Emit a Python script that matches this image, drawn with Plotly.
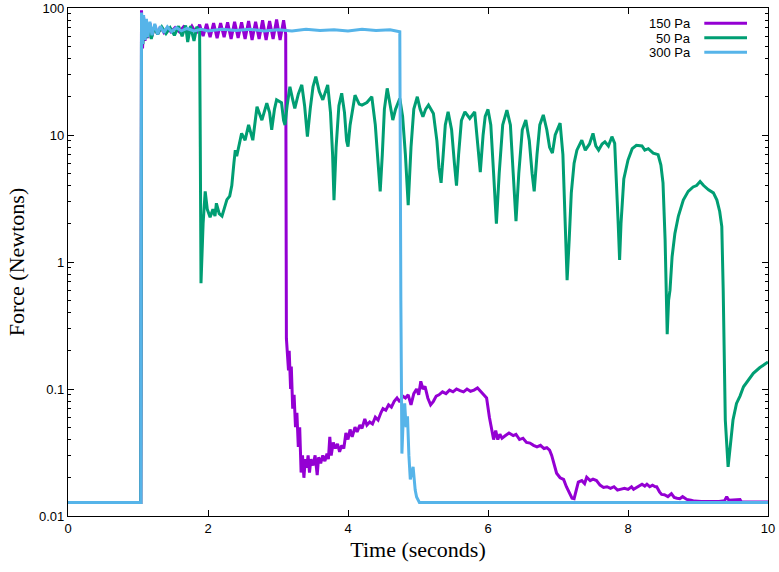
import plotly.graph_objects as go

# ---------------- data ----------------
series_names = ["150 Pa", "50 Pa", "300 Pa"]
series_colors = ["#9400D3", "#009E73", "#56B4E9"]

t_150 = [0, 1.04, 1.05, 1.065, 1.08, 1.10, 1.12, 1.14, 1.17, 1.20, 1.24, 1.28, 1.32, 1.37, 1.42, 1.47,
         1.53, 1.59, 1.65, 1.71, 1.77, 1.83, 1.88, 1.93, 1.98, 2.03, 2.08, 2.13, 2.18, 2.23, 2.28, 2.33,
         2.38, 2.43, 2.48, 2.53, 2.58, 2.63, 2.68, 2.73, 2.78, 2.83, 2.88, 2.93, 2.98, 3.03, 3.08, 3.11,
         3.12, 3.15, 3.16, 3.18, 3.19, 3.21, 3.23, 3.25, 3.27, 3.29, 3.31, 3.33, 3.35, 3.37, 3.39, 3.41,
         3.43, 3.45, 3.47, 3.50, 3.53, 3.56, 3.58, 3.61, 3.64, 3.67, 3.70, 3.72, 3.74, 3.76, 3.79, 3.82,
         3.85, 3.88, 3.91, 3.94, 3.97, 4.00, 4.03, 4.06, 4.10, 4.13, 4.17, 4.20, 4.24, 4.27, 4.31, 4.35,
         4.39, 4.43, 4.47, 4.50, 4.54, 4.58, 4.62, 4.66, 4.70, 4.74, 4.78, 4.82, 4.86, 4.90, 4.94, 4.98,
         5.01, 5.04, 5.07, 5.10, 5.14, 5.18, 5.22, 5.26, 5.30, 5.35, 5.40, 5.45, 5.50, 5.55, 5.60, 5.65,
         5.70, 5.75, 5.80, 5.85, 5.90, 5.94, 5.98, 6.02, 6.05, 6.08, 6.11, 6.14, 6.17, 6.20, 6.25, 6.30,
         6.36, 6.40, 6.45, 6.50, 6.55, 6.60, 6.65, 6.70, 6.75, 6.80, 6.84, 6.88, 6.91, 6.95, 6.98, 7.03,
         7.08, 7.12, 7.17, 7.20, 7.23, 7.26, 7.29, 7.34, 7.38, 7.41, 7.46, 7.50, 7.55, 7.60, 7.65, 7.70,
         7.75, 7.80, 7.85, 7.89, 7.95, 8.00, 8.05, 8.08, 8.12, 8.16, 8.20, 8.24, 8.27, 8.31, 8.35, 8.39,
         8.41, 8.45, 8.48, 8.52, 8.57, 8.62, 8.66, 8.70, 8.74, 8.78, 8.84, 8.90, 8.95, 9.05, 9.15, 9.22,
         9.30, 9.38, 9.41, 9.44, 9.50, 9.55, 9.60, 9.62, 10.0]
f_150 = [0.0128, 0.0128, 96, 48, 85, 55, 80, 58, 76, 60, 73, 62, 71, 64, 70, 65,
         70, 65, 71, 64, 72, 63, 74, 60, 75, 59, 76, 58, 76, 59, 77, 57,
         78, 58, 77, 57, 79, 56, 78, 57, 80, 56, 79, 57, 81, 56, 80, 62,
         0.25, 0.14, 0.2, 0.1, 0.15, 0.07, 0.09, 0.05, 0.065, 0.035, 0.05, 0.022, 0.03, 0.02, 0.028, 0.024,
         0.03, 0.022, 0.028, 0.025, 0.03, 0.021, 0.029, 0.026, 0.03, 0.027, 0.031, 0.028, 0.042, 0.03, 0.038, 0.034,
         0.037, 0.032, 0.036, 0.034, 0.045, 0.04, 0.048, 0.042, 0.05, 0.046, 0.052, 0.049, 0.058, 0.052, 0.055, 0.053,
         0.06, 0.057, 0.065, 0.07, 0.068, 0.075, 0.072, 0.08, 0.085, 0.079, 0.088, 0.085, 0.09, 0.075, 0.092, 0.1,
         0.09, 0.115, 0.1, 0.105, 0.085, 0.075, 0.08, 0.088, 0.09, 0.095, 0.092, 0.098, 0.095, 0.1, 0.097, 0.095,
         0.1, 0.096, 0.098, 0.102, 0.095, 0.09, 0.085, 0.06, 0.048, 0.04, 0.047, 0.04, 0.044, 0.041, 0.043, 0.045,
         0.043, 0.044, 0.04, 0.041, 0.038, 0.0375, 0.036, 0.035, 0.036, 0.034, 0.0345, 0.033, 0.03, 0.025, 0.0217, 0.02,
         0.0194, 0.017, 0.015, 0.0138, 0.0137, 0.016, 0.0185, 0.019, 0.018, 0.0202, 0.019, 0.0195, 0.019, 0.0175, 0.0168, 0.017,
         0.0165, 0.017, 0.016, 0.0162, 0.0165, 0.0162, 0.017, 0.0162, 0.0168, 0.0172, 0.0178, 0.0172, 0.0178, 0.017, 0.0175, 0.017,
         0.017, 0.0155, 0.0148, 0.0147, 0.0142, 0.015, 0.014, 0.0138, 0.0137, 0.0142, 0.0135, 0.0133, 0.0131, 0.013, 0.013, 0.0131,
         0.013, 0.0132, 0.0142, 0.0133, 0.0134, 0.0135, 0.0135, 0.0129, 0.0129]

t_50 = [0, 1.04, 1.05, 1.07, 1.09, 1.12, 1.15, 1.19, 1.23, 1.28, 1.34, 1.40, 1.46, 1.52, 1.58, 1.63,
        1.68, 1.71, 1.75, 1.80, 1.84, 1.88, 1.89, 1.90, 1.93, 1.96, 1.99, 2.03, 2.07, 2.10, 2.12, 2.16,
        2.20, 2.24, 2.27, 2.31, 2.34, 2.37, 2.39, 2.41, 2.45, 2.48, 2.53, 2.58, 2.64, 2.70, 2.74, 2.77,
        2.84, 2.88, 2.91, 2.95, 2.98, 3.05, 3.08, 3.10, 3.13, 3.17, 3.21, 3.24, 3.29, 3.34, 3.38, 3.42,
        3.46, 3.50, 3.54, 3.59, 3.64, 3.71, 3.75, 3.78, 3.80, 3.83, 3.87, 3.91, 3.95, 3.98, 4.00, 4.03,
        4.10, 4.16, 4.20, 4.27, 4.34, 4.39, 4.43, 4.46, 4.49, 4.52, 4.56, 4.60, 4.64, 4.68, 4.74, 4.78,
        4.82, 4.86, 4.90, 4.94, 4.99, 5.03, 5.07, 5.11, 5.15, 5.22, 5.27, 5.30, 5.33, 5.36, 5.39, 5.43,
        5.48, 5.52, 5.55, 5.58, 5.62, 5.67, 5.74, 5.81, 5.85, 5.89, 5.93, 5.96, 6.00, 6.04, 6.08, 6.12,
        6.16, 6.21, 6.27, 6.32, 6.36, 6.40, 6.44, 6.49, 6.54, 6.59, 6.63, 6.66, 6.70, 6.74, 6.79, 6.84,
        6.88, 6.92, 6.96, 7.03, 7.07, 7.10, 7.13, 7.16, 7.19, 7.23, 7.27, 7.34, 7.39, 7.45, 7.50, 7.54,
        7.58, 7.63, 7.67, 7.72, 7.77, 7.81, 7.84, 7.86, 7.88, 7.90, 7.94, 8.00, 8.06, 8.12, 8.20, 8.24,
        8.29, 8.36, 8.43, 8.47, 8.50, 8.53, 8.56, 8.58, 8.60, 8.63, 8.67, 8.72, 8.79, 8.86, 8.93, 8.98,
        9.03, 9.08, 9.15, 9.22, 9.27, 9.31, 9.34, 9.36, 9.39, 9.41, 9.43, 9.46, 9.50, 9.55, 9.60, 9.65,
        9.72, 9.79, 9.88, 9.96, 10.0]
f_50 = [0.0128, 0.0128, 80, 52, 76, 58, 72, 57, 70, 62, 71, 63, 70, 61, 72, 60,
        73, 54, 72, 55, 71, 66, 8, 0.68, 2.0, 3.6, 2.6, 2.25, 2.6, 2.3, 2.9, 2.4,
        2.3, 2.8, 3.1, 3.3, 4.0, 6.0, 7.6, 6.8, 9.0, 10.3, 9.1, 12, 9.1, 16.7, 14.5, 13.1,
        17.8, 15, 11, 16, 18.9, 18, 13, 12, 17, 24, 19, 16.2, 21, 24.8, 17, 9.7,
        16, 24, 28.8, 22, 18.9, 24.8, 15, 7, 3.07, 8, 17, 21.3, 15, 9, 8.1, 12,
        20.6, 17.5, 17.2, 18, 20, 12, 6, 3.6, 7, 16, 23.3, 17, 13.1, 16, 19.4, 14,
        7, 2.8, 8, 16, 20, 16, 13.9, 16, 17.2, 14.8, 9, 5.5, 4.2, 7, 12, 15.2,
        11, 6, 4.0, 7, 13, 15.2, 13.5, 15.2, 9, 5.1, 10, 14, 15.9, 12, 5, 2.0,
        5, 12, 15.7, 12, 5, 2.1, 5, 11, 13.1, 9, 5, 3.6, 7, 12, 14.4, 11,
        8, 7.2, 10, 12.4, 7, 2.5, 0.72, 1.5, 3.5, 6, 7.6, 9.1, 7.6, 8.5, 10.3, 8.2,
        7.6, 8.5, 8.85, 8.2, 9.7, 8.6, 4, 2, 1.04, 2.0, 4.5, 6.35, 7.8, 8.3, 8.2, 7.6,
        7.8, 7.2, 7.0, 5.8, 4.2, 1.5, 0.27, 0.5, 0.6, 1.1, 1.68, 2.3, 3.07, 3.6, 3.9, 4.0,
        4.3, 4.0, 3.7, 3.5, 3.07, 2.5, 1.9, 0.6, 0.057, 0.035, 0.0244, 0.035, 0.057, 0.077, 0.088, 0.104,
        0.118, 0.133, 0.147, 0.159, 0.163]

t_300 = [0, 1.04, 1.05, 1.065, 1.08, 1.10, 1.12, 1.14, 1.17, 1.20, 1.24, 1.28, 1.32, 1.37, 1.42, 1.48,
         1.55, 1.62, 1.70, 1.80, 1.90, 2.0, 2.2, 2.4, 2.6, 2.8, 3.0, 3.2, 3.4, 3.6, 3.8, 4.0,
         4.2, 4.4, 4.6, 4.72, 4.74, 4.755, 4.77, 4.79, 4.81, 4.83, 4.85, 4.87, 4.89, 4.93, 4.96, 4.98,
         5.02, 10.0]
f_300 = [0.0128, 0.0128, 92, 52, 88, 56, 82, 59, 78, 61, 75, 62, 72, 64, 71, 65,
         70, 66, 69, 66, 68, 66, 68, 66.5, 68, 66, 67.5, 66, 68, 66.5, 67.5, 66,
         68, 66.5, 67.5, 66, 65, 0.5, 0.031, 0.06, 0.077, 0.05, 0.061, 0.03, 0.0194, 0.0244, 0.016, 0.0141,
         0.0128, 0.0128]

x_ticks = [0, 2, 4, 6, 8, 10]
y_tickvals = [0.01, 0.1, 1, 10, 100]
y_ticktext = ["0.01", "0.1", "1", "10", "100"]
y_minor_vals = [m * d for d in [0.01, 0.1, 1, 10] for m in range(2, 10)]

# ---------------- figure ----------------
fig = go.Figure()
for name, color, t, f in zip(series_names, series_colors,
                             [t_150, t_50, t_300], [f_150, f_50, f_300]):
    fig.add_trace(go.Scatter(x=t, y=f, mode="lines", name=name,
                             line=dict(color=color, width=3), showlegend=False))

# gnuplot-style legend (text right-aligned, sample to the right)
leg_y = [0.970, 0.9415, 0.9128]
for name, color, yy in zip(series_names, series_colors, leg_y):
    fig.add_annotation(xref="paper", yref="paper", x=0.893, y=yy, text=name,
                       showarrow=False, xanchor="right", yanchor="middle",
                       height=14, valign="middle",
                       font=dict(family="Liberation Sans, Arial", size=13, color="black"))
    fig.add_shape(type="line", xref="paper", yref="paper", x0=0.909, x1=0.970,
                  y0=yy, y1=yy, line=dict(color=color, width=3))

axis_common = dict(showline=True, linecolor="black", linewidth=1.2, mirror="allticks",
                   ticks="inside", ticklen=6, tickcolor="black", showgrid=False, zeroline=False,
                   automargin=False,
                   tickfont=dict(family="Liberation Sans, Arial", size=13, color="black"))

fig.update_xaxes(range=[0, 10], tickvals=x_ticks, ticktext=[str(v) for v in x_ticks],
                 title=dict(text="Time (seconds)", standoff=6,
                            font=dict(family="Liberation Serif, Times New Roman", size=22, color="black")),
                 **axis_common)
fig.update_yaxes(type="log", range=[-2, 2], tickvals=y_tickvals, ticktext=y_ticktext,
                 minor=dict(tickmode="array", tickvals=y_minor_vals, ticks="inside",
                            ticklen=3, tickcolor="black", showgrid=False),
                 title=dict(text="Force (Newtons)", standoff=8,
                            font=dict(family="Liberation Serif, Times New Roman", size=22, color="black")),
                 **axis_common)

fig.update_layout(width=779, height=572, margin=dict(l=68, r=11, t=8, b=56),
                  plot_bgcolor="white", paper_bgcolor="white")

# remove the default 8 px page margin so the figure fills the window exactly; hide the modebar
fig.write_html("out.html", config={"displayModeBar": False},
               post_script="document.body.style.margin='0px';")
